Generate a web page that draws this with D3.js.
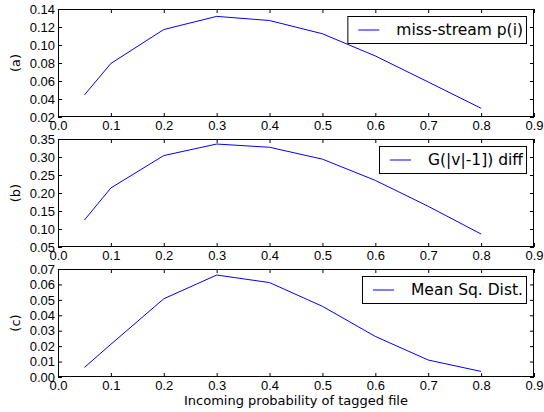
<!DOCTYPE html>
<html>
<head>
<meta charset="utf-8">
<script src="https://cdn.jsdelivr.net/npm/d3@7"></script>
<style>
  body { margin: 0; background: #fff; }
  svg { display: block; font-family: "DejaVu Sans", sans-serif; }
</style>
</head>
<body>
<div id="app"></div>
<script>
const xValues = [0.05, 0.1, 0.2, 0.3, 0.4, 0.5, 0.6, 0.7, 0.8];
const xTicks = [0, 0.1, 0.2, 0.3, 0.4, 0.5, 0.6, 0.7, 0.8, 0.9];

const missStream = [0.0445, 0.0795, 0.1172, 0.1318, 0.1272, 0.1125, 0.0878, 0.0589, 0.0297];
const gDiff = [0.125, 0.214, 0.304, 0.336, 0.327, 0.294, 0.235, 0.163, 0.086];
const meanSq = [0.0062, 0.0212, 0.0507, 0.0661, 0.0612, 0.0458, 0.0263, 0.011, 0.0036];

const ticksA = [0.02, 0.04, 0.06, 0.08, 0.10, 0.12, 0.14];
const ticksB = [0.05, 0.10, 0.15, 0.20, 0.25, 0.30, 0.35];
const ticksC = [0.00, 0.01, 0.02, 0.03, 0.04, 0.05, 0.06, 0.07];

const panelLabels = ["(a)", "(b)", "(c)"];
const legendLabels = ["miss-stream p(i)", "G(|v|-1]) diff", "Mean Sq. Dist."];
const xLabel = "Incoming probability of tagged file";

const width = 544;
const height = 412;
const left = 58, right = 534;
const tops = [9, 139, 269];
const panelH = 108;

const svg = d3.select('#app')
  .append('svg')
  .attr('width', width)
  .attr('height', height);

const x = d3.scaleLinear().domain([0, 0.9]).range([left, right]);

const panels = [
  { values: missStream, ticks: ticksA },
  { values: gDiff, ticks: ticksB },
  { values: meanSq, ticks: ticksC }
];

panels.forEach((p, i) => {
  const top = tops[i];
  const bottom = top + panelH;
  const y = d3.scaleLinear()
    .domain([p.ticks[0], p.ticks[p.ticks.length - 1]])
    .range([bottom, top]);

  const g = svg.append('g');

  // ticks (inward, all four sides)
  const ax = (axis, tx, ty, labels) => {
    const a = g.append('g').attr('transform', `translate(${tx},${ty})`).call(axis);
    a.select('.domain').remove();
    a.selectAll('line').attr('stroke', '#000');
    a.selectAll('text').attr('fill', '#000').style('font-size', '13px');
    if (!labels) a.selectAll('text').remove();
    return a;
  };

  ax(d3.axisBottom(x).tickValues(xTicks).tickFormat(d3.format('.1f'))
      .tickSizeInner(-4).tickSizeOuter(0).tickPadding(4), 0, bottom, true);
  ax(d3.axisTop(x).tickValues(xTicks).tickSizeInner(-4).tickSizeOuter(0), 0, top, false);
  ax(d3.axisLeft(y).tickValues(p.ticks).tickFormat(d3.format('.2f'))
      .tickSizeInner(-4).tickSizeOuter(0).tickPadding(3), left, 0, true);
  ax(d3.axisRight(y).tickValues(p.ticks).tickSizeInner(-4).tickSizeOuter(0), right, 0, false);

  // frame
  g.append('rect')
    .attr('x', left + 0.5).attr('y', top + 0.5)
    .attr('width', right - left - 1).attr('height', panelH - 1)
    .attr('fill', 'none').attr('stroke', '#000').attr('stroke-width', 1);

  const line = d3.line()
    .x((d, j) => x(xValues[j]))
    .y(d => y(d));

  g.append('path')
    .datum(p.values)
    .attr('fill', 'none')
    .attr('stroke', '#0000ff')
    .attr('stroke-width', 1)
    .attr('d', line);

  // panel label
  g.append('text')
    .attr('transform', `translate(20,${(top + bottom) / 2}) rotate(-90)`)
    .attr('text-anchor', 'middle')
    .style('font-size', '13px')
    .text(panelLabels[i]);

  // legend
  const lg = g.append('g');
  const boxTop = top + 7, boxH = 27;
  const box = lg.append('rect');
  const txt = lg.append('text')
    .attr('x', 523)
    .attr('y', boxTop + boxH / 2)
    .attr('dy', '0.36em')
    .attr('text-anchor', 'end')
    .style('font-size', '15.5px')
    .text(legendLabels[i]);
  const tl = txt.node().getComputedTextLength();
  const lineEnd = 523 - tl - 17;
  const lineStart = lineEnd - 21;
  lg.append('line')
    .attr('x1', lineStart).attr('x2', lineEnd)
    .attr('y1', boxTop + boxH / 2 + 0.5).attr('y2', boxTop + boxH / 2 + 0.5)
    .attr('stroke', '#0000ff');
  box.attr('x', lineStart - 11 + 0.5).attr('y', boxTop + 0.5)
    .attr('width', 526 - (lineStart - 11)).attr('height', boxH)
    .attr('fill', '#fff').attr('stroke', '#000');
});

svg.append('text')
  .attr('x', (left + right) / 2)
  .attr('y', 405)
  .attr('text-anchor', 'middle')
  .style('font-size', '13px')
  .text(xLabel);
</script>
</body>
</html>
